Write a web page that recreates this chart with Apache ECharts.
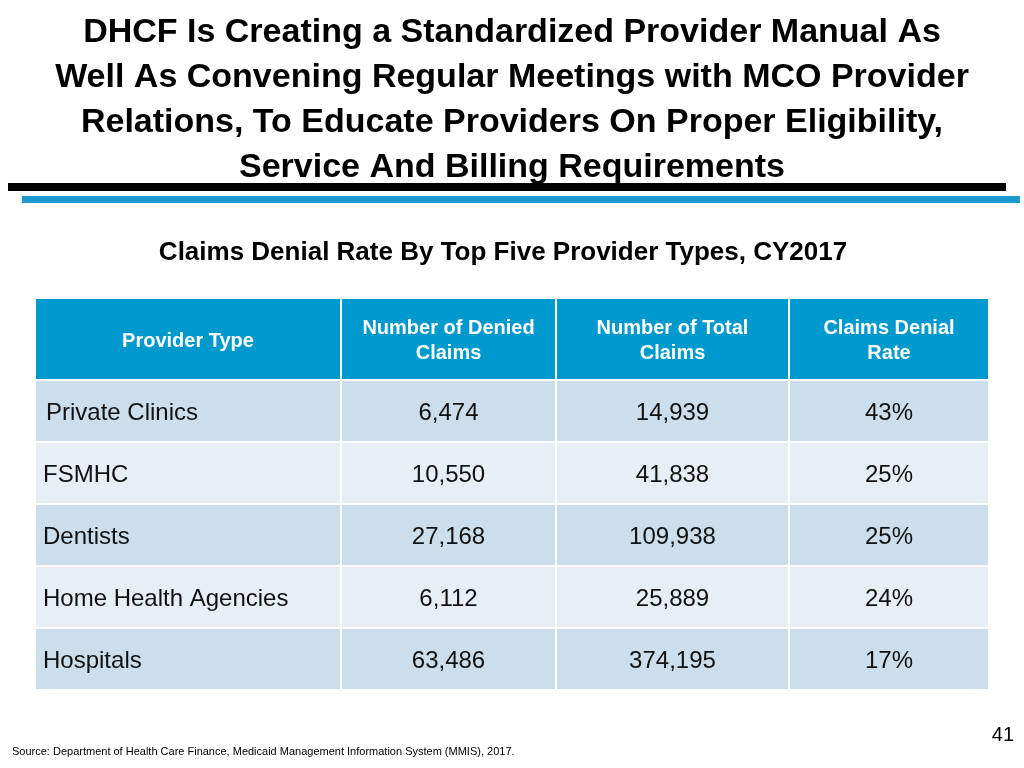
<!DOCTYPE html>
<html><head><meta charset="utf-8">
<script src="https://cdn.jsdelivr.net/npm/echarts@6/dist/echarts.min.js"></script>
<style>html,body{margin:0;padding:0;background:#fff}#c{width:1024px;height:768px}</style>
</head><body><div id="c"></div>
<script>
const headers = ['Provider Type', 'Number of Denied\nClaims', 'Number of Total\nClaims', 'Claims Denial\nRate'];
const providerTypes = ['Private Clinics', 'FSMHC', 'Dentists', 'Home Health Agencies', 'Hospitals'];
const deniedClaims = ['6,474', '10,550', '27,168', '6,112', '63,486'];
const totalClaims = ['14,939', '41,838', '109,938', '25,889', '374,195'];
const denialRates = ['43%', '25%', '25%', '24%', '17%'];

// layout (pixel units of the grid)
const colEdges = [0, 306, 521, 754, 954];
const rowEdges = [0, 82, 144, 206, 268, 330, 392];

const cells = [];
headers.forEach((h, c) => cells.push([c, 0, h]));
providerTypes.forEach((p, r) => {
  [p, deniedClaims[r], totalClaims[r], denialRates[r]].forEach((v, c) => cells.push([c, r + 1, v]));
});

const FF = 'Liberation Sans';
const chart = echarts.init(document.getElementById('c'));
chart.setOption({
  animation: false,
  grid: { left: 35, right: 35, top: 298, bottom: 78 },
  xAxis: { type: 'value', min: 0, max: 954, show: false },
  yAxis: { type: 'value', min: 0, max: 392, inverse: true, show: false },
  series: [{
    type: 'custom',
    data: cells,
    renderItem: function (params, api) {
      const c = api.value(0), r = api.value(1);
      const txt = cells[params.dataIndex][2];
      const p0 = api.coord([colEdges[c], rowEdges[r]]);
      const p1 = api.coord([colEdges[c + 1], rowEdges[r + 1]]);
      const w = p1[0] - p0[0], h = p1[1] - p0[1];
      const isHead = r === 0;
      const fill = isHead ? '#0099CE' : (r % 2 === 1 ? '#CCDEEB' : '#E7EEF5');
      const left = !isHead && c === 0;
      return {
        type: 'group',
        children: [
          { type: 'rect', shape: { x: p0[0], y: p0[1], width: w, height: h },
            style: { fill: fill, stroke: '#fff', lineWidth: 2 } },
          { type: 'text', style: {
              text: txt,
              x: left ? p0[0] + (r === 1 ? 11 : 8) : p0[0] + w / 2,
              y: p0[1] + h / 2 + (isHead ? 2 : 2),
              align: left ? 'left' : 'center', verticalAlign: 'middle',
              fill: isHead ? '#fff' : '#111',
              fontFamily: FF, fontWeight: isHead ? 'bold' : 'normal',
              fontSize: isHead ? 20 : 24,
              lineHeight: isHead ? 25 : 28
            } }
        ]
      };
    }
  }],
  graphic: [
    { type: 'text', x: 512, y: 10, style: {
      text: 'DHCF Is Creating a Standardized Provider Manual As\nWell As Convening Regular Meetings with MCO Provider\nRelations, To Educate Providers On Proper Eligibility,\nService And Billing Requirements',
      align: 'center', fontFamily: FF, fontWeight: 'bold', fontSize: 34, lineHeight: 45, fill: '#000' } },
    { type: 'rect', shape: { x: 8, y: 183, width: 998, height: 8 }, style: { fill: '#000' } },
    { type: 'rect', shape: { x: 22, y: 196, width: 998, height: 7 }, style: { fill: '#1C9AD1' } },
    { type: 'text', x: 503, y: 240, style: {
      text: 'Claims Denial Rate By Top Five Provider Types, CY2017', align: 'center',
      fontFamily: FF, fontWeight: 'bold', fontSize: 26, fill: '#000' } },
    { type: 'text', x: 12, y: 746, style: {
      text: 'Source: Department of Health Care Finance, Medicaid Management Information System (MMIS), 2017.',
      fontFamily: FF, fontSize: 11, fill: '#000' } },
    { type: 'text', x: 1014, y: 725, style: { text: '41', align: 'right', fontFamily: FF, fontSize: 20, fill: '#000' } }
  ]
});
</script></body></html>
